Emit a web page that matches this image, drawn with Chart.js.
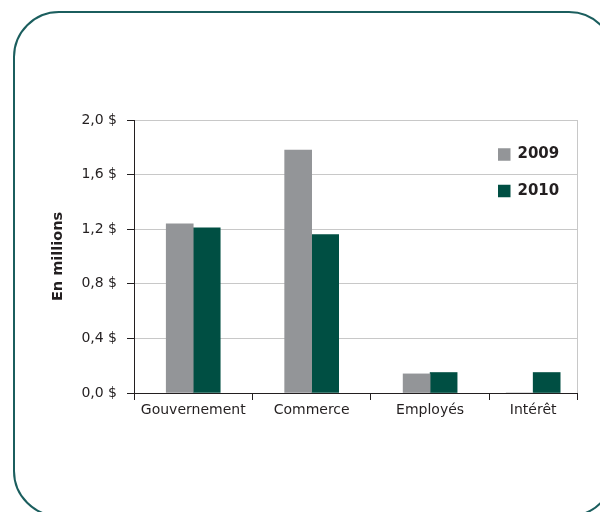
<!DOCTYPE html>
<html>
<head>
<meta charset="utf-8">
<script src="https://cdn.jsdelivr.net/npm/chart.js@4.4.1/dist/chart.umd.min.js"></script>
<style>
    html, body { margin: 0; padding: 0; background: #fff; overflow: hidden; }
    #page { position: relative; width: 600px; height: 512px; }
    #cadre {
        position: absolute; left: 13px; top: 11px; width: 602px; height: 506px;
        border: 2px solid #1b5e5e; border-radius: 46px; box-sizing: border-box;
    }
    #zone { position: absolute; left: 0; top: 0; width: 600px; height: 512px; }
</style>
</head>
<body>
<div id="page">
    <div id="cadre"></div>
    <div id="zone"><canvas id="revenus-chart"></canvas></div>
</div>
<script>
// Revenus par source (en millions de $)
const categories = ['Gouvernement', 'Commerce', 'Employés', 'Intérêt'];
const annees = ['2009', '2010'];
const valeurs2009 = [1.24, 1.78, 0.14, 0];
const valeurs2010 = [1.21, 1.16, 0.15, 0.15];
const ticksY = [0, 0.4, 0.8, 1.2, 1.6, 2.0];

const couleurs = ['#939598', '#004f43'];
const TEXTE = '#231f20';
const GRILLE = '#c8c8c8';
const POLICE = 'DejaVu Sans';
// la dernière catégorie est coupée à droite dans l'original
const X_MAX = 3.74;

// bornes des catégories sur l'axe x, et leur milieu
const bornes = categories.map((c, i) => i).concat(X_MAX);
const centres = categories.map((c, i) => (bornes[i] + bornes[i + 1]) / 2);

// Légende dessinée dans la zone du graphique
const legendeInterne = {
    id: 'legendeInterne',
    afterDatasetsDraw(chart, args, opts) {
        const ctx = chart.ctx;
        const area = chart.chartArea;
        ctx.save();
        ctx.font = 'bold 15px "' + POLICE + '"';
        ctx.textBaseline = 'middle';
        chart.data.datasets.forEach((ds, i) => {
            const x = area.right - opts.right;
            const y = area.top + opts.top + i * opts.spacing;
            ctx.fillStyle = ds.backgroundColor;
            ctx.fillRect(x, y - opts.box / 2, opts.box, opts.box);
            ctx.fillStyle = TEXTE;
            ctx.fillText(ds.label, x + opts.box + 7, y);
        });
        ctx.restore();
    }
};

function enPoints(valeurs) {
    return valeurs.map((v, i) => ({ x: centres[i], y: v }));
}

const ctx = document.getElementById('revenus-chart');
new Chart(ctx, {
    type: 'bar',
    data: {
        datasets: [
            { label: annees[0], data: enPoints(valeurs2009), backgroundColor: couleurs[0] },
            { label: annees[1], data: enPoints(valeurs2010), backgroundColor: couleurs[1] }
        ]
    },
    options: {
        responsive: true,
        maintainAspectRatio: false,
        animation: false,
        barThickness: 27,
        layout: { padding: { left: 46, right: 23, top: 120, bottom: 79 } },
        plugins: {
            legend: { display: false },
            tooltip: { enabled: false },
            legendeInterne: { right: 79, top: 34.5, spacing: 36.5, box: 12.5 }
        },
        scales: {
            x: {
                type: 'linear',
                offset: false,
                min: 0,
                max: X_MAX,
                afterBuildTicks: axis => {
                    const t = bornes.concat(centres).sort((a, b) => a - b);
                    axis.ticks = t.map(v => ({ value: v }));
                },
                ticks: {
                    autoSkip: false,
                    maxRotation: 0,
                    minRotation: 0,
                    padding: 2,
                    color: TEXTE,
                    font: { family: POLICE, size: 14 },
                    callback: v => {
                        const i = centres.indexOf(v);
                        return i >= 0 ? categories[i] : '';
                    }
                },
                grid: {
                    offset: false,
                    drawOnChartArea: true,
                    color: c => (c.tick && c.tick.value === X_MAX ? GRILLE : 'rgba(0,0,0,0)'),
                    tickColor: c => (c.tick && bornes.includes(c.tick.value) ? TEXTE : 'rgba(0,0,0,0)'),
                    tickLength: 7
                },
                border: { color: TEXTE, width: 1 },
                afterFit: axis => { axis.height = 40; }
            },
            y: {
                min: 0,
                max: 2,
                afterBuildTicks: axis => { axis.ticks = ticksY.map(v => ({ value: v })); },
                ticks: {
                    padding: 10,
                    color: TEXTE,
                    font: { family: POLICE, size: 14 },
                    callback: v => v.toFixed(1).replace('.', ',') + ' $'
                },
                grid: { color: GRILLE, tickColor: TEXTE, tickLength: 7, lineWidth: 1 },
                border: { color: TEXTE, width: 1 },
                title: {
                    display: true,
                    text: 'En millions',
                    color: TEXTE,
                    font: { family: POLICE, size: 14.5, weight: 'bold' },
                    padding: { top: 4, bottom: 4 }
                },
                afterFit: axis => { axis.width = 88; }
            }
        }
    },
    plugins: [legendeInterne]
});
</script>
</body>
</html>
